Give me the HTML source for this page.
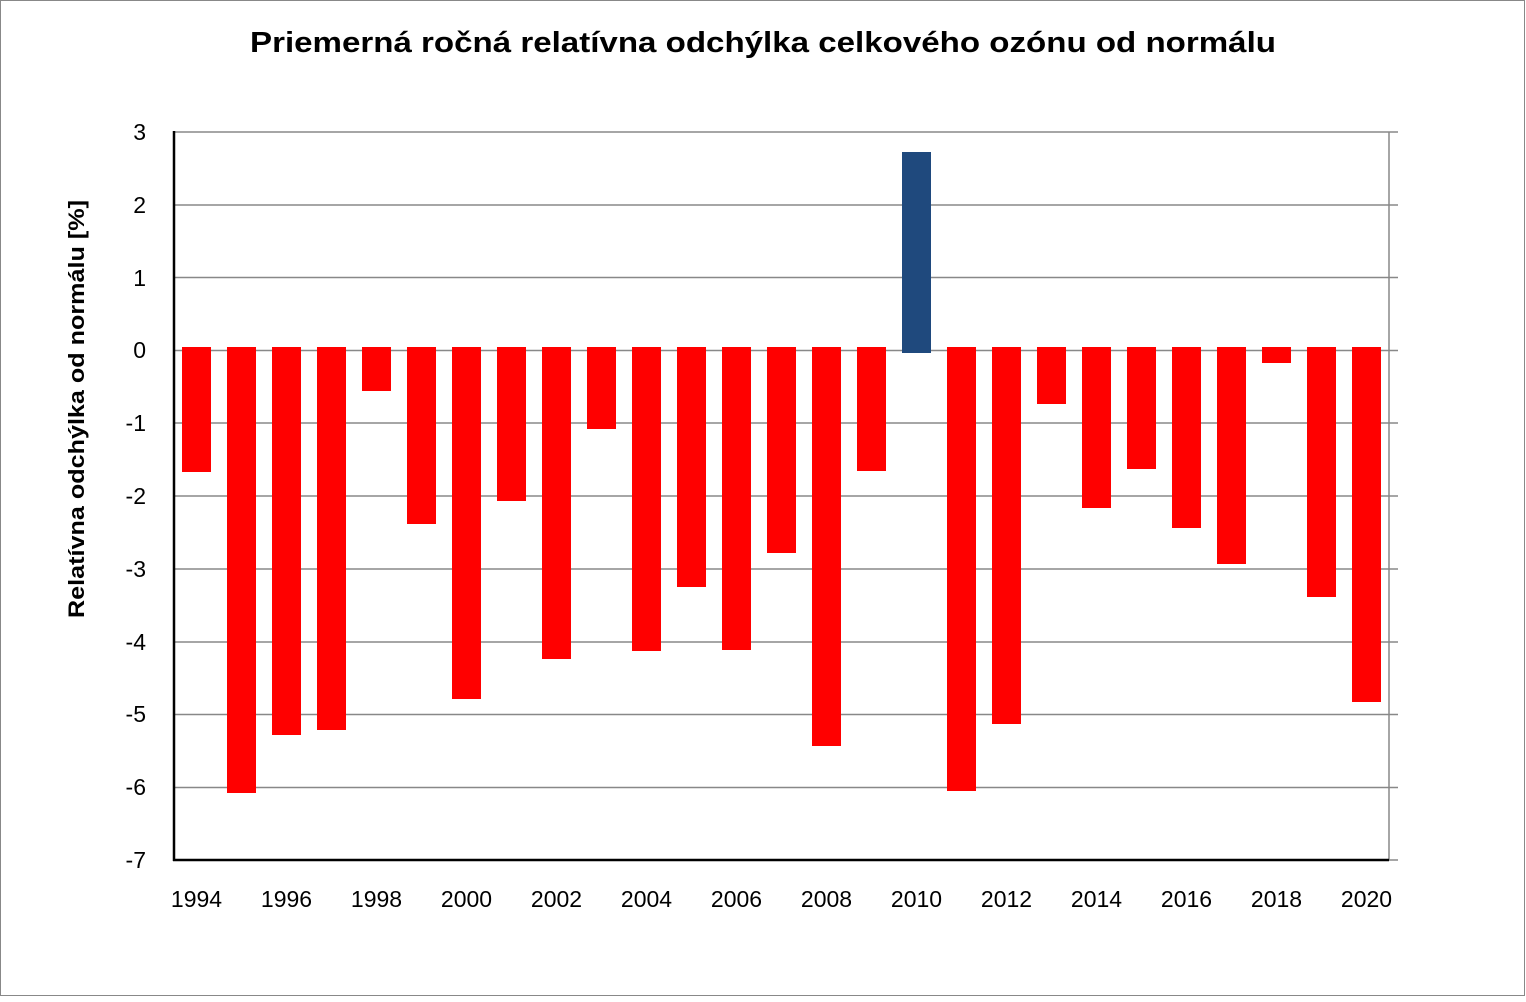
<!DOCTYPE html><html><head><meta charset="utf-8"><style>body{margin:0;background:#fff}</style></head><body>
<svg width="1526" height="997" xmlns="http://www.w3.org/2000/svg" font-family="Liberation Sans, sans-serif">
<rect x="0.5" y="0.5" width="1524" height="995" fill="#fff" stroke="#888"/>
<text x="250" y="52" font-size="29" font-weight="bold" textLength="1026" lengthAdjust="spacingAndGlyphs">Priemerná ročná relatívna  odchýlka  celkového ozónu od normálu</text>
<g stroke="#888" stroke-width="1.5">
<line x1="174" y1="132" x2="1398" y2="132"/><line x1="174" y1="205" x2="1398" y2="205"/><line x1="174" y1="277.5" x2="1398" y2="277.5"/><line x1="174" y1="350.5" x2="1398" y2="350.5"/><line x1="174" y1="423" x2="1398" y2="423"/><line x1="174" y1="496" x2="1398" y2="496"/><line x1="174" y1="569" x2="1398" y2="569"/><line x1="174" y1="642" x2="1398" y2="642"/><line x1="174" y1="714.5" x2="1398" y2="714.5"/><line x1="174" y1="787.5" x2="1398" y2="787.5"/><line x1="1389" y1="132" x2="1389" y2="860"/><line x1="1389" y1="860" x2="1398" y2="860"/>
</g>
<g fill="#f00" id="b"></g>
<line x1="174" y1="131" x2="174" y2="861" stroke="#000" stroke-width="2.5"/>
<line x1="173" y1="860" x2="1389" y2="860" stroke="#000" stroke-width="2.5"/>
<g font-size="23" text-anchor="end">
<text x="146" y="140">3</text><text x="146" y="213">2</text><text x="146" y="286">1</text><text x="146" y="358">0</text><text x="146" y="431">-1</text><text x="146" y="504">-2</text><text x="146" y="577">-3</text><text x="146" y="650">-4</text><text x="146" y="722">-5</text><text x="146" y="795">-6</text><text x="146" y="868">-7</text>
</g>
<g font-size="23" text-anchor="middle" id="xl"></g>
<text transform="translate(84,618) rotate(-90)" font-size="22" font-weight="bold" textLength="418" lengthAdjust="spacingAndGlyphs">Relatívna odchýlka od normálu [%]</text>
<script>
var bot=[472,793,735,730,391,524,699,501,659,429,651,587,650,553,746,471,0,791,724,404,508,469,528,564,363,597,702];
var g=document.getElementById('b'),xl=document.getElementById('xl'),ns='http://www.w3.org/2000/svg';
for(var i=0;i<27;i++){var r=document.createElementNS(ns,'rect');var x=182+45*i;r.setAttribute('x',x);r.setAttribute('width',29);
if(i==16){r.setAttribute('y',152);r.setAttribute('height',201);r.setAttribute('fill','#1f497d');}else{r.setAttribute('y',347);r.setAttribute('height',bot[i]-347);}
g.appendChild(r);
if(i%2==0){var t=document.createElementNS(ns,'text');t.setAttribute('x',x+14.5);t.setAttribute('y',907);t.textContent=1994+i;xl.appendChild(t);}}
</script>
</svg></body></html>
